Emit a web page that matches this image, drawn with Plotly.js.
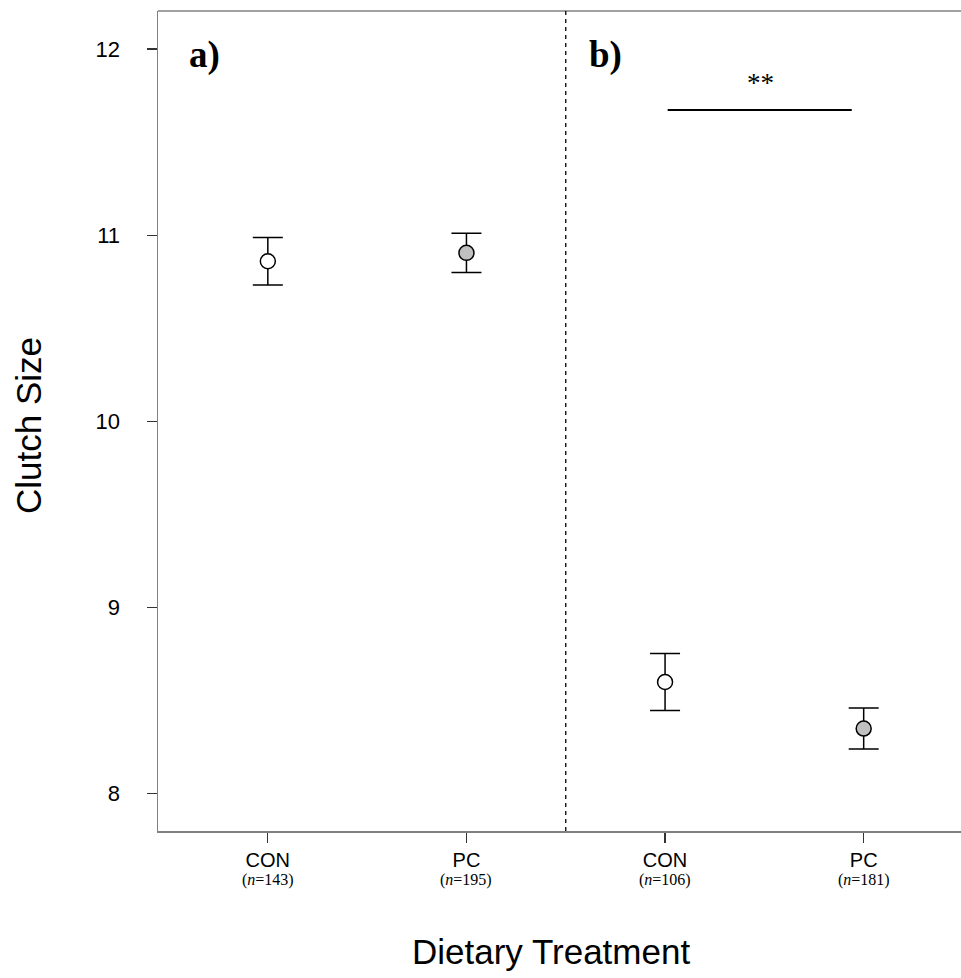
<!DOCTYPE html>
<html>
<head>
<meta charset="utf-8">
<script src="https://cdn.plot.ly/plotly-3.0.1.min.js"></script>
<style>html,body{margin:0;padding:0;background:#fff;}</style>
</head>
<body>
<div id="chart" style="width:961px;height:978px;"></div>
<script>
// Data
const panels = ["a", "a", "b", "b"];
const treatments = ["CON", "PC", "CON", "PC"];
const sampleSizes = [143, 195, 106, 181];
const means = [10.86, 10.905, 8.60, 8.35];
const errors = [0.128, 0.105, 0.153, 0.11];
const fills = ["#ffffff", "#c0c0c0", "#ffffff", "#c0c0c0"];
const positions = [0, 1, 2, 3];
const yTicks = [8, 9, 10, 11, 12];
const sigLabel = "**";
const sigLevel = 11.672;

const serif = "'Liberation Serif', 'Times New Roman', serif";
const sans = "'Liberation Sans', Arial, Helvetica, sans-serif";

const trace = {
  x: positions,
  y: means,
  type: "scatter",
  mode: "markers",
  marker: {size: 15, color: fills, line: {color: "#000", width: 1.5}},
  error_y: {type: "data", array: errors, visible: true, color: "#000", thickness: 1.5, width: 15},
  showlegend: false,
  hoverinfo: "skip"
};

const nAnnotations = positions.map((p, i) => ({
  xref: "x", yref: "paper", x: p, y: 0, yanchor: "middle", yshift: -49, showarrow: false,
  text: "(<i>n</i>=" + sampleSizes[i] + ")", font: {family: serif, size: 16, color: "#000"}
}));

const layout = {
  width: 961, height: 978,
  margin: {l: 158, r: 0, t: 11, b: 147},
  paper_bgcolor: "#fff", plot_bgcolor: "#fff",
  font: {family: sans, color: "#000"},
  xaxis: {
    range: [-0.553, 3.49],
    tickvals: positions, ticktext: treatments,
    showgrid: false, zeroline: false,
    showline: true, linecolor: "#808080", linewidth: 1.5,
    ticks: "outside", ticklen: 10, tickcolor: "#333", tickwidth: 1.2,
    tickfont: {size: 20, family: sans},
    ticklabelstandoff: 0
  },
  yaxis: {
    range: [7.8, 12.204],
    tickvals: yTicks,
    showgrid: false, zeroline: false,
    showline: true, linecolor: "#808080", linewidth: 1.5,
    ticks: "outside", ticklen: 10, tickcolor: "#333", tickwidth: 1.2,
    tickfont: {size: 22, family: sans},
    ticklabelstandoff: 22
  },
  shapes: [
    {type: "line", xref: "paper", yref: "paper", x0: 0, x1: 1, y0: 1, y1: 1, line: {color: "#808080", width: 1.5}},
    {type: "line", xref: "x", yref: "paper", x0: 1.5, x1: 1.5, y0: 0, y1: 1, line: {color: "#000", width: 1.3, dash: "4px,4px"}},
    {type: "line", xref: "x", yref: "y", x0: 2.013, x1: 2.94, y0: sigLevel, y1: sigLevel, line: {color: "#000", width: 2}}
  ],
  annotations: [
    {xref: "paper", yref: "paper", x: 0.036, y: 0.975, xanchor: "left", yanchor: "top", showarrow: false,
     text: "<b>a)</b>", font: {family: serif, size: 37}},
    {xref: "paper", yref: "paper", x: 0.534, y: 0.975, xanchor: "left", yanchor: "top", showarrow: false,
     text: "<b>b)</b>", font: {family: serif, size: 37}},
    {xref: "x", yref: "y", x: 2.48, y: sigLevel, yanchor: "bottom", yshift: 10, showarrow: false,
     text: sigLabel, font: {family: serif, size: 27}},
    {xref: "paper", yref: "paper", x: 0.49, y: 0, xanchor: "center", yanchor: "middle", yshift: -120, showarrow: false,
     text: "Dietary Treatment", font: {family: sans, size: 35}},
    {xref: "paper", yref: "paper", x: -0.162, y: 0.495, xanchor: "center", yanchor: "middle", textangle: -90, showarrow: false,
     text: "Clutch Size", font: {family: sans, size: 35}}
  ].concat(nAnnotations)
};

Plotly.newPlot("chart", [trace], layout, {displayModeBar: false, staticPlot: true});
</script>
</body>
</html>
